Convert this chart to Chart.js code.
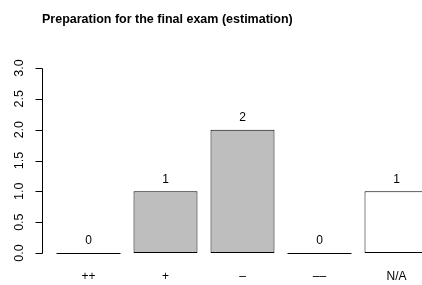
<!DOCTYPE html>
<html>
<head>
<meta charset="utf-8">
<script src="https://cdn.jsdelivr.net/npm/chart.js@4"></script>
<style>
  html, body { margin: 0; padding: 0; background: #fff; overflow: hidden; }
  #wrap { width: 422px; height: 285px; overflow: hidden; position: relative; }
  #chart { position: absolute; left: 0; top: 0; }
</style>
</head>
<body>
<div id="wrap"><canvas id="chart" width="450" height="285"></canvas></div>
<script>
// data
const categories = ["++", "+", "\u2013", "\u2013\u2013", "N/A"];
const counts = [0, 1, 2, 0, 1];
const barColors = ["#bebebe", "#bebebe", "#bebebe", "#bebebe", "#ffffff"];
const yTicks = [0, 0.5, 1, 1.5, 2, 2.5, 3];
const yTickLabels = ["0.0", "0.5", "1.0", "1.5", "2.0", "2.5", "3.0"];
const title = "Preparation for the final exam (estimation)";

const FONT = "'Liberation Sans', Arial, sans-serif";

// R-style axis, zero bars, value labels and title
const rStyle = {
    id: "rStyle",
    afterDatasetsDraw(chart) {
        const ctx = chart.ctx;
        const y = chart.scales.y;
        const meta = chart.getDatasetMeta(0);
        ctx.save();

        // zero-height bars drawn as a flat line
        ctx.strokeStyle = "#000";
        ctx.lineWidth = 1;
        meta.data.forEach((bar, i) => {
            if (counts[i] === 0) {
                const yy = Math.round(bar.base) + 0.5;
                ctx.beginPath();
                ctx.moveTo(bar.x - bar.width / 2, yy);
                ctx.lineTo(bar.x + bar.width / 2, yy);
                ctx.stroke();
            }
        });

        // value labels above bars
        ctx.fillStyle = "#000";
        ctx.font = "12px " + FONT;
        ctx.textAlign = "center";
        ctx.textBaseline = "middle";
        meta.data.forEach((bar, i) => {
            ctx.fillText(String(counts[i]), bar.x, bar.y - 12);
        });

        // left axis
        const ax = 42.5;
        const top = Math.round(y.getPixelForValue(yTicks[yTicks.length - 1])) + 0.5;
        const bot = Math.round(y.getPixelForValue(yTicks[0])) + 0.5;
        ctx.beginPath();
        ctx.moveTo(ax, top);
        ctx.lineTo(ax, bot);
        yTicks.forEach(v => {
            const py = Math.round(y.getPixelForValue(v)) + 0.5;
            ctx.moveTo(ax, py);
            ctx.lineTo(ax - 7, py);
        });
        ctx.stroke();

        ctx.font = "12.5px " + FONT;
        yTicks.forEach((v, i) => {
            const py = y.getPixelForValue(v);
            ctx.save();
            ctx.translate(19.5, py);
            ctx.rotate(-Math.PI / 2);
            ctx.fillText(yTickLabels[i], 0, 0);
            ctx.restore();
        });

        // title
        ctx.font = "bold 12.5px " + FONT;
        ctx.textAlign = "left";
        ctx.textBaseline = "alphabetic";
        ctx.fillText(title, 42, 23);

        ctx.restore();
    }
};

new Chart(document.getElementById("chart"), {
    type: "bar",
    data: {
        labels: categories,
        datasets: [{
            data: counts,
            backgroundColor: barColors,
            borderColor: "#000",
            borderWidth: 1,
            borderSkipped: false,
            barPercentage: 0.831,
            categoryPercentage: 1
        }]
    },
    options: {
        responsive: false,
        animation: false,
        events: [],
        layout: {
            padding: { left: 50, right: 15, top: 60.6, bottom: 0 }
        },
        plugins: {
            legend: { display: false },
            title: { display: false },
            tooltip: { enabled: false }
        },
        scales: {
            x: {
                offset: true,
                grid: { display: false, drawTicks: false },
                border: { display: false },
                afterFit(scale) { scale.height = 24.6; },
                ticks: {
                    color: "#000",
                    padding: 9,
                    font: { family: FONT, size: 12 },
                    maxRotation: 0,
                    autoSkip: false
                }
            },
            y: {
                display: false,
                min: -0.12,
                max: 3.12
            }
        }
    },
    plugins: [rStyle]
});
</script>
</body>
</html>
